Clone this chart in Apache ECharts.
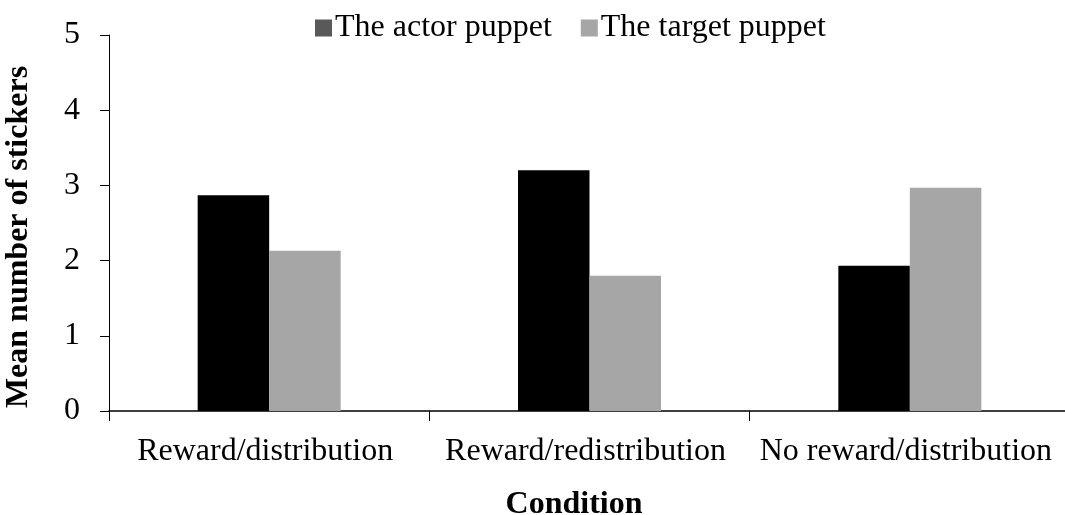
<!DOCTYPE html>
<html lang="en">
<head>
    <meta charset="UTF-8">
    <title>Stickers</title>
    <script src="https://cdn.jsdelivr.net/npm/echarts@6/dist/echarts.min.js"></script>
    <style>
        body { margin: 0; background: #fff; }
    </style>
</head>
<body>
    <div id="main" style="width: 1065px;height:515px;"></div>
</body>
    <script type="text/javascript">
        // data
        var conditions = ['Reward/distribution', 'Reward/redistribution', 'No reward/distribution'];
        var actorValues = [2.87, 3.20, 1.93];
        var targetValues = [2.13, 1.80, 2.97];
        var seriesNames = ['The actor puppet', 'The target puppet'];

        var serif = "'Liberation Serif', 'Times New Roman', serif";

        var myChart = echarts.init(document.getElementById('main'));

        var option = {
            backgroundColor: '#fff',
            animation: false,
            legend: {
                top: 7,
                left: 310,
                itemWidth: 17,
                itemHeight: 17,
                itemGap: 29,
                icon: 'rect',
                textStyle: {
                    fontFamily: serif,
                    fontSize: 32,
                    color: '#000',
                    padding: [0, 0, 0, -2]
                },
                data: [
                    { name: seriesNames[0], itemStyle: { color: '#595959' } },
                    { name: seriesNames[1], itemStyle: { color: '#a6a6a6' } }
                ]
            },
            grid: {
                left: 109,
                top: 35,
                width: 961,
                bottom: 104,
                containLabel: false,
                outerBoundsMode: 'none'
            },
            xAxis: {
                type: 'category',
                data: conditions,
                name: 'Condition',
                nameLocation: 'middle',
                nameGap: 78,
                nameTextStyle: {
                    fontFamily: serif,
                    fontSize: 32,
                    fontWeight: 'bold',
                    color: '#000',
                    padding: [0, 31, 0, 0]
                },
                axisLine: { lineStyle: { color: '#000', width: 1.5 } },
                axisTick: { show: true, interval: 0, length: 10, lineStyle: { color: '#000', width: 1 } },
                axisLabel: {
                    interval: 0,
                    hideOverlap: false,
                    fontFamily: serif,
                    fontSize: 32,
                    color: '#000',
                    margin: 25,
                    padding: [0, 8, 0, 0]
                }
            },
            yAxis: {
                type: 'value',
                min: 0,
                max: 5,
                interval: 1,
                name: 'Mean number of stickers',
                nameLocation: 'middle',
                nameGap: 74,
                nameTextStyle: {
                    fontFamily: serif,
                    fontSize: 32,
                    fontWeight: 'bold',
                    color: '#000',
                    padding: [0, 28, 0, 0]
                },
                splitLine: { show: false },
                axisLine: { show: true, lineStyle: { color: '#000', width: 1 } },
                axisTick: { show: true, length: 9, lineStyle: { color: '#000', width: 1 } },
                axisLabel: {
                    fontFamily: serif,
                    fontSize: 32,
                    color: '#000',
                    margin: 29
                }
            },
            series: [
                {
                    name: seriesNames[0],
                    type: 'bar',
                    barWidth: 71.5,
                    barGap: '0%',
                    itemStyle: { color: '#000' },
                    data: actorValues
                },
                {
                    name: seriesNames[1],
                    type: 'bar',
                    barWidth: 71.5,
                    itemStyle: { color: '#a6a6a6' },
                    data: targetValues
                }
            ]
        };

        myChart.setOption(option);
    </script>
</html>
